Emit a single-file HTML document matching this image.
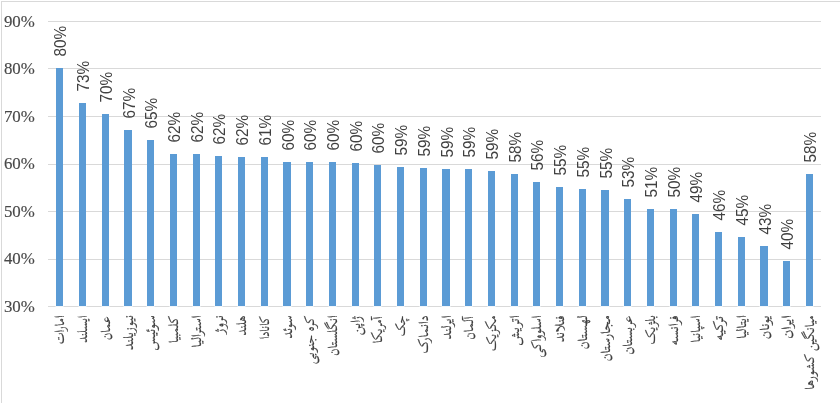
<!DOCTYPE html>
<html>
<head>
<meta charset="utf-8">
<title>chart</title>
<style>
html,body{margin:0;padding:0;background:#fff;}
body{width:840px;height:403px;overflow:hidden;position:relative;}
svg{display:block;position:absolute;left:0;top:0;}
.ax{font-family:"Liberation Serif","DejaVu Serif",serif;font-size:16.5px;fill:#484848;stroke:#484848;stroke-width:0.15px;}
.dl{font-family:"Liberation Sans","DejaVu Sans",sans-serif;font-size:15.6px;fill:#404040;stroke:#404040;stroke-width:0px;}
.ct{font-family:"Scheherazade New","Lateef","Noto Naskh Arabic","DejaVu Sans",sans-serif;font-size:13.5px;fill:#404040;stroke:#404040;stroke-width:0.2px;}
</style>
</head>
<body>
<svg width="840" height="403" viewBox="0 0 840 403">
<rect x="0" y="0" width="840" height="403" fill="#ffffff"/>
<rect x="1" y="1" width="839" height="1" fill="#d9d9d9"/>
<rect x="1" y="1" width="1" height="402" fill="#d9d9d9"/>
<g fill="#d9d9d9">
<rect x="48" y="21" width="773" height="1"/>
<rect x="48" y="68" width="773" height="1"/>
<rect x="48" y="116" width="773" height="1"/>
<rect x="48" y="164" width="773" height="1"/>
<rect x="48" y="211" width="773" height="1"/>
<rect x="48" y="259" width="773" height="1"/>
</g>
<g class="ax">
<text x="3.90" y="27.00" textLength="30.9" lengthAdjust="spacingAndGlyphs">90%</text>
<text x="3.90" y="74.00" textLength="30.9" lengthAdjust="spacingAndGlyphs">80%</text>
<text x="3.90" y="122.00" textLength="30.9" lengthAdjust="spacingAndGlyphs">70%</text>
<text x="3.90" y="169.00" textLength="30.9" lengthAdjust="spacingAndGlyphs">60%</text>
<text x="3.90" y="217.00" textLength="30.9" lengthAdjust="spacingAndGlyphs">50%</text>
<text x="3.90" y="264.00" textLength="30.9" lengthAdjust="spacingAndGlyphs">40%</text>
<text x="3.90" y="312.00" textLength="30.9" lengthAdjust="spacingAndGlyphs">30%</text>
</g>
<g fill="#5b9bd5">
<rect x="56" y="68" width="7" height="238"/>
<rect x="79" y="103" width="7" height="203"/>
<rect x="102" y="114" width="7" height="192"/>
<rect x="124" y="130" width="8" height="176"/>
<rect x="147" y="140" width="7" height="166"/>
<rect x="170" y="154" width="7" height="152"/>
<rect x="193" y="154" width="7" height="152"/>
<rect x="215" y="156" width="7" height="150"/>
<rect x="238" y="157" width="7" height="149"/>
<rect x="261" y="157" width="7" height="149"/>
<rect x="283" y="162" width="8" height="144"/>
<rect x="306" y="162" width="7" height="144"/>
<rect x="329" y="162" width="7" height="144"/>
<rect x="352" y="163" width="7" height="143"/>
<rect x="374" y="165" width="7" height="141"/>
<rect x="397" y="167" width="7" height="139"/>
<rect x="420" y="168" width="7" height="138"/>
<rect x="442" y="169" width="8" height="137"/>
<rect x="465" y="169" width="7" height="137"/>
<rect x="488" y="171" width="7" height="135"/>
<rect x="511" y="174" width="7" height="132"/>
<rect x="533" y="182" width="7" height="124"/>
<rect x="556" y="187" width="7" height="119"/>
<rect x="579" y="189" width="7" height="117"/>
<rect x="601" y="190" width="8" height="116"/>
<rect x="624" y="199" width="7" height="107"/>
<rect x="647" y="209" width="7" height="97"/>
<rect x="670" y="209" width="7" height="97"/>
<rect x="692" y="214" width="7" height="92"/>
<rect x="715" y="232" width="7" height="74"/>
<rect x="738" y="237" width="7" height="69"/>
<rect x="760" y="246" width="8" height="60"/>
<rect x="783" y="261" width="7" height="45"/>
<rect x="806" y="174" width="7" height="132"/>
</g>
<rect x="48" y="306" width="773" height="1" fill="#d9d9d9"/>
<g fill="#f1f6fb">
<rect x="55.5" y="306" width="8" height="1"/>
<rect x="78.5" y="306" width="8" height="1"/>
<rect x="101.5" y="306" width="8" height="1"/>
<rect x="123.5" y="306" width="9" height="1"/>
<rect x="146.5" y="306" width="8" height="1"/>
<rect x="169.5" y="306" width="8" height="1"/>
<rect x="192.5" y="306" width="8" height="1"/>
<rect x="214.5" y="306" width="8" height="1"/>
<rect x="237.5" y="306" width="8" height="1"/>
<rect x="260.5" y="306" width="8" height="1"/>
<rect x="282.5" y="306" width="9" height="1"/>
<rect x="305.5" y="306" width="8" height="1"/>
<rect x="328.5" y="306" width="8" height="1"/>
<rect x="351.5" y="306" width="8" height="1"/>
<rect x="373.5" y="306" width="8" height="1"/>
<rect x="396.5" y="306" width="8" height="1"/>
<rect x="419.5" y="306" width="8" height="1"/>
<rect x="441.5" y="306" width="9" height="1"/>
<rect x="464.5" y="306" width="8" height="1"/>
<rect x="487.5" y="306" width="8" height="1"/>
<rect x="510.5" y="306" width="8" height="1"/>
<rect x="532.5" y="306" width="8" height="1"/>
<rect x="555.5" y="306" width="8" height="1"/>
<rect x="578.5" y="306" width="8" height="1"/>
<rect x="600.5" y="306" width="9" height="1"/>
<rect x="623.5" y="306" width="8" height="1"/>
<rect x="646.5" y="306" width="8" height="1"/>
<rect x="669.5" y="306" width="8" height="1"/>
<rect x="691.5" y="306" width="8" height="1"/>
<rect x="714.5" y="306" width="8" height="1"/>
<rect x="737.5" y="306" width="8" height="1"/>
<rect x="759.5" y="306" width="9" height="1"/>
<rect x="782.5" y="306" width="8" height="1"/>
<rect x="805.5" y="306" width="8" height="1"/>
</g>
<g class="dl">
<text transform="translate(66.46 56.60) rotate(-90)" textLength="30.7" lengthAdjust="spacingAndGlyphs">80%</text>
<text transform="translate(89.17 91.60) rotate(-90)" textLength="30.7" lengthAdjust="spacingAndGlyphs">73%</text>
<text transform="translate(111.89 102.60) rotate(-90)" textLength="30.7" lengthAdjust="spacingAndGlyphs">70%</text>
<text transform="translate(134.60 118.60) rotate(-90)" textLength="30.7" lengthAdjust="spacingAndGlyphs">67%</text>
<text transform="translate(157.32 128.60) rotate(-90)" textLength="30.7" lengthAdjust="spacingAndGlyphs">65%</text>
<text transform="translate(180.03 142.60) rotate(-90)" textLength="30.7" lengthAdjust="spacingAndGlyphs">62%</text>
<text transform="translate(202.75 142.60) rotate(-90)" textLength="30.7" lengthAdjust="spacingAndGlyphs">62%</text>
<text transform="translate(225.46 144.60) rotate(-90)" textLength="30.7" lengthAdjust="spacingAndGlyphs">62%</text>
<text transform="translate(248.17 145.60) rotate(-90)" textLength="30.7" lengthAdjust="spacingAndGlyphs">62%</text>
<text transform="translate(270.89 145.60) rotate(-90)" textLength="30.7" lengthAdjust="spacingAndGlyphs">61%</text>
<text transform="translate(293.60 150.60) rotate(-90)" textLength="30.7" lengthAdjust="spacingAndGlyphs">60%</text>
<text transform="translate(316.32 150.60) rotate(-90)" textLength="30.7" lengthAdjust="spacingAndGlyphs">60%</text>
<text transform="translate(339.03 150.60) rotate(-90)" textLength="30.7" lengthAdjust="spacingAndGlyphs">60%</text>
<text transform="translate(361.75 151.60) rotate(-90)" textLength="30.7" lengthAdjust="spacingAndGlyphs">60%</text>
<text transform="translate(384.46 153.60) rotate(-90)" textLength="30.7" lengthAdjust="spacingAndGlyphs">60%</text>
<text transform="translate(407.17 155.60) rotate(-90)" textLength="30.7" lengthAdjust="spacingAndGlyphs">59%</text>
<text transform="translate(429.89 156.60) rotate(-90)" textLength="30.7" lengthAdjust="spacingAndGlyphs">59%</text>
<text transform="translate(452.60 157.60) rotate(-90)" textLength="30.7" lengthAdjust="spacingAndGlyphs">59%</text>
<text transform="translate(475.32 157.60) rotate(-90)" textLength="30.7" lengthAdjust="spacingAndGlyphs">59%</text>
<text transform="translate(498.03 159.60) rotate(-90)" textLength="30.7" lengthAdjust="spacingAndGlyphs">59%</text>
<text transform="translate(520.75 162.60) rotate(-90)" textLength="30.7" lengthAdjust="spacingAndGlyphs">58%</text>
<text transform="translate(543.46 170.60) rotate(-90)" textLength="30.7" lengthAdjust="spacingAndGlyphs">56%</text>
<text transform="translate(566.17 175.60) rotate(-90)" textLength="30.7" lengthAdjust="spacingAndGlyphs">55%</text>
<text transform="translate(588.89 177.60) rotate(-90)" textLength="30.7" lengthAdjust="spacingAndGlyphs">55%</text>
<text transform="translate(611.60 178.60) rotate(-90)" textLength="30.7" lengthAdjust="spacingAndGlyphs">55%</text>
<text transform="translate(634.32 187.60) rotate(-90)" textLength="30.7" lengthAdjust="spacingAndGlyphs">53%</text>
<text transform="translate(657.03 197.60) rotate(-90)" textLength="30.7" lengthAdjust="spacingAndGlyphs">51%</text>
<text transform="translate(679.75 197.60) rotate(-90)" textLength="30.7" lengthAdjust="spacingAndGlyphs">50%</text>
<text transform="translate(702.46 202.60) rotate(-90)" textLength="30.7" lengthAdjust="spacingAndGlyphs">49%</text>
<text transform="translate(725.17 220.60) rotate(-90)" textLength="30.7" lengthAdjust="spacingAndGlyphs">46%</text>
<text transform="translate(747.89 225.60) rotate(-90)" textLength="30.7" lengthAdjust="spacingAndGlyphs">45%</text>
<text transform="translate(770.60 234.60) rotate(-90)" textLength="30.7" lengthAdjust="spacingAndGlyphs">43%</text>
<text transform="translate(793.32 249.60) rotate(-90)" textLength="30.7" lengthAdjust="spacingAndGlyphs">40%</text>
<text transform="translate(816.03 162.60) rotate(-90)" textLength="30.7" lengthAdjust="spacingAndGlyphs">58%</text>
</g>
<g class="ct" text-anchor="end">
<text transform="translate(64.36 315.50) rotate(-90)" textLength="28.81" lengthAdjust="spacingAndGlyphs">امارات</text>
<text transform="translate(87.07 315.50) rotate(-90)" textLength="27.31" lengthAdjust="spacingAndGlyphs">ایسلند</text>
<text transform="translate(109.79 316.40) rotate(-90)" textLength="23.64" lengthAdjust="spacingAndGlyphs">عمان</text>
<text transform="translate(132.50 315.00) rotate(-90)" textLength="34.95" lengthAdjust="spacingAndGlyphs">نیوزیلند</text>
<text transform="translate(155.22 315.00) rotate(-90)" textLength="35.22" lengthAdjust="spacingAndGlyphs">سوئیس</text>
<text transform="translate(177.93 316.00) rotate(-90)" textLength="27.07" lengthAdjust="spacingAndGlyphs">کلمبیا</text>
<text transform="translate(200.65 315.25) rotate(-90)" textLength="32.22" lengthAdjust="spacingAndGlyphs">استرالیا</text>
<text transform="translate(223.36 315.00) rotate(-90)" textLength="18.91" lengthAdjust="spacingAndGlyphs">نروژ</text>
<text transform="translate(246.07 315.50) rotate(-90)" textLength="19.98" lengthAdjust="spacingAndGlyphs">هلند</text>
<text transform="translate(268.79 316.25) rotate(-90)" textLength="22.83" lengthAdjust="spacingAndGlyphs">کانادا</text>
<text transform="translate(291.50 315.25) rotate(-90)" textLength="23.21" lengthAdjust="spacingAndGlyphs">سوئد</text>
<text transform="translate(314.22 316.00) rotate(-90)" textLength="48.36" lengthAdjust="spacingAndGlyphs">کره جنوبی</text>
<text transform="translate(336.93 315.50) rotate(-90)" textLength="40.13" lengthAdjust="spacingAndGlyphs">انگلستان</text>
<text transform="translate(359.65 316.25) rotate(-90)" textLength="18.76" lengthAdjust="spacingAndGlyphs">ژاپن</text>
<text transform="translate(382.36 316.75) rotate(-90)" textLength="26.43" lengthAdjust="spacingAndGlyphs">آمریکا</text>
<text transform="translate(405.07 315.50) rotate(-90)" textLength="20.40" lengthAdjust="spacingAndGlyphs">چک</text>
<text transform="translate(427.79 315.50) rotate(-90)" textLength="37.66" lengthAdjust="spacingAndGlyphs">دانمارک</text>
<text transform="translate(450.50 315.50) rotate(-90)" textLength="23.69" lengthAdjust="spacingAndGlyphs">ایرلند</text>
<text transform="translate(473.22 316.75) rotate(-90)" textLength="22.77" lengthAdjust="spacingAndGlyphs">آلمان</text>
<text transform="translate(495.93 315.50) rotate(-90)" textLength="35.62" lengthAdjust="spacingAndGlyphs">مکزیک</text>
<text transform="translate(518.65 315.25) rotate(-90)" textLength="30.08" lengthAdjust="spacingAndGlyphs">اتریش</text>
<text transform="translate(541.36 315.50) rotate(-90)" textLength="41.97" lengthAdjust="spacingAndGlyphs">اسلوواکی</text>
<text transform="translate(564.07 315.50) rotate(-90)" textLength="26.58" lengthAdjust="spacingAndGlyphs">فنلاند</text>
<text transform="translate(586.79 315.25) rotate(-90)" textLength="34.11" lengthAdjust="spacingAndGlyphs">لهستان</text>
<text transform="translate(609.50 315.25) rotate(-90)" textLength="46.00" lengthAdjust="spacingAndGlyphs">مجارستان</text>
<text transform="translate(632.22 315.50) rotate(-90)" textLength="38.88" lengthAdjust="spacingAndGlyphs">عربستان</text>
<text transform="translate(654.93 315.00) rotate(-90)" textLength="29.32" lengthAdjust="spacingAndGlyphs">بلژیک</text>
<text transform="translate(677.65 315.50) rotate(-90)" textLength="29.76" lengthAdjust="spacingAndGlyphs">فرانسه</text>
<text transform="translate(700.36 315.50) rotate(-90)" textLength="26.89" lengthAdjust="spacingAndGlyphs">اسپانیا</text>
<text transform="translate(723.07 315.75) rotate(-90)" textLength="24.70" lengthAdjust="spacingAndGlyphs">ترکیه</text>
<text transform="translate(745.79 315.25) rotate(-90)" textLength="23.44" lengthAdjust="spacingAndGlyphs">ایتالیا</text>
<text transform="translate(768.50 315.25) rotate(-90)" textLength="23.90" lengthAdjust="spacingAndGlyphs">یونان</text>
<text transform="translate(791.22 315.25) rotate(-90)" textLength="23.59" lengthAdjust="spacingAndGlyphs">ایران</text>
<text transform="translate(813.93 315.50) rotate(-90)" textLength="74.16" lengthAdjust="spacingAndGlyphs">میانگین کشورها</text>
</g>
</svg>
</body>
</html>
